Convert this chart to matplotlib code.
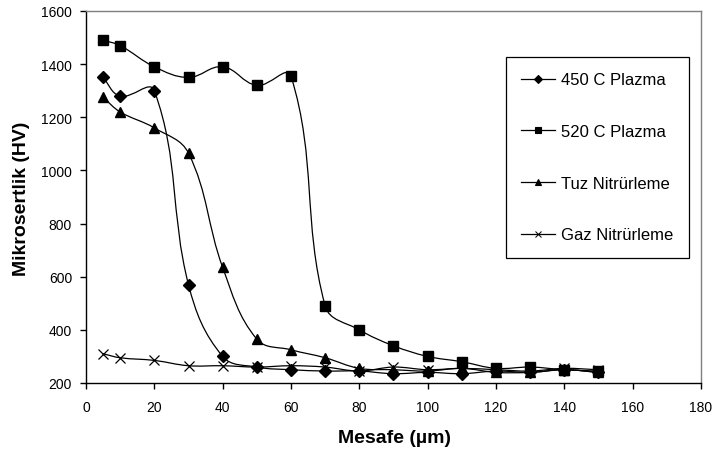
import numpy as np
import matplotlib
matplotlib.use('Agg')
import matplotlib.pyplot as plt
from matplotlib.path import Path
from matplotlib.patches import PathPatch
from matplotlib.lines import Line2D

# ---- data ----
distance = [5, 10, 20, 30, 40, 50, 60, 70, 80, 90, 100, 110, 120, 130, 140, 150]
plazma_450 = [1350, 1280, 1300, 570, 300, 260, 250, 245, 245, 235, 240, 235, 245, 240, 250, 240]
plazma_520 = [1490, 1470, 1390, 1350, 1390, 1320, 1355, 490, 400, 340, 300, 280, 255, 260, 250, 245]
tuz_nitrur = [1275, 1220, 1160, 1065, 635, 365, 325, 295, 255, 250, 245, 255, 240, 240, 250, 240]
gaz_nitrur = [310, 295, 285, 265, 265, 260, 265, 260, 245, 260, 250, 255, 250, 245, 255, 250]

series_labels = ['450 C Plazma', '520 C Plazma', 'Tuz Nitrürleme', 'Gaz Nitrürleme']
x_ticks = [0, 20, 40, 60, 80, 100, 120, 140, 160, 180]
y_ticks = [200, 400, 600, 800, 1000, 1200, 1400, 1600]

plt.rcParams['font.family'] = ['Liberation Sans', 'DejaVu Sans']

W, H = 718, 452
fig = plt.figure(figsize=(W / 100, H / 100), dpi=100)
L, R, T, B = 86, 701, 12, 384
ax = fig.add_axes([L / W, 1 - B / H, (R - L) / W, (B - T) / H])
ax.set_xlim(0, 180)
ax.set_ylim(200, 1600)
ax.set_xticks(x_ticks)
ax.set_yticks(y_ticks)
ax.tick_params(axis='both', direction='out', length=4.5, width=1, labelsize=10, colors='black')
ax.tick_params(axis='y', pad=5.5)
ax.tick_params(axis='x', pad=7.5)
for s in ['left', 'bottom']:
    ax.spines[s].set_color('black')
    ax.spines[s].set_linewidth(1.0)
for s in ['top', 'right']:
    ax.spines[s].set_color('#7f7f7f')
    ax.spines[s].set_linewidth(1.0)


def smooth_line(x, y, k=0.5):
    pts = ax.transData.transform(np.column_stack([x, y]).astype(float))
    n = len(pts)
    tang = []
    for i in range(n):
        if i == 0:
            d = pts[1] - pts[0]
        elif i == n - 1:
            d = pts[-1] - pts[-2]
        else:
            d = pts[i + 1] - pts[i - 1]
        tang.append(d / np.hypot(*d))
    verts = [pts[0]]
    codes = [Path.MOVETO]
    for i in range(n - 1):
        seg = np.hypot(*(pts[i + 1] - pts[i]))
        verts.append(pts[i] + tang[i] * seg * k / 1.5 * 0.75)
        verts.append(pts[i + 1] - tang[i + 1] * seg * k / 1.5 * 0.75)
        verts.append(pts[i + 1])
        codes += [Path.CURVE4] * 3
    dverts = ax.transData.inverted().transform(np.array(verts))
    patch = PathPatch(Path(dverts, codes), facecolor='none', edgecolor='black', lw=0.9, zorder=2)
    ax.add_patch(patch)


all_series = [plazma_450, plazma_520, tuz_nitrur, gaz_nitrur]
markers = [('D', 6.5, 1.0), ('s', 6.8, 1.0), ('^', 7.5, 1.0), ('x', 7.0, 0.9)]
for vals, (m, ms, mew) in zip(all_series, markers):
    smooth_line(distance, vals, k=0.75)
    ax.plot(distance, vals, linestyle='none', marker=m, ms=ms, mew=mew,
            color='black', mfc='black', mec='black', zorder=3)

# legend
handles = []
for (m, ms, mew), lab in zip(markers, series_labels):
    handles.append(Line2D([0], [0], color='black', lw=0.9, marker=m,
                          ms=ms * 0.65, mew=mew * 0.8, label=lab))
leg = ax.legend(handles=handles, loc='upper left',
                bbox_to_anchor=(506 / W, 1 - 58 / H), bbox_transform=fig.transFigure,
                borderaxespad=0, fontsize=12, handlelength=2.04, handletextpad=0.36,
                labelspacing=2.2, borderpad=0.92, fancybox=False, framealpha=1,
                edgecolor='black')
leg.get_frame().set_linewidth(0.9)

fig.text((338 + 452) / 2 / W, 1 - 443 / H, 'Mesafe (µm)', ha='center', va='baseline',
         fontsize=14, fontweight='bold')
fig.text(21.5 / W, 1 - 199 / H, 'Mikrosertlik (HV)', ha='center', va='center',
         rotation=90, fontsize=14, fontweight='bold')

fig.savefig('out.png', dpi=100)
